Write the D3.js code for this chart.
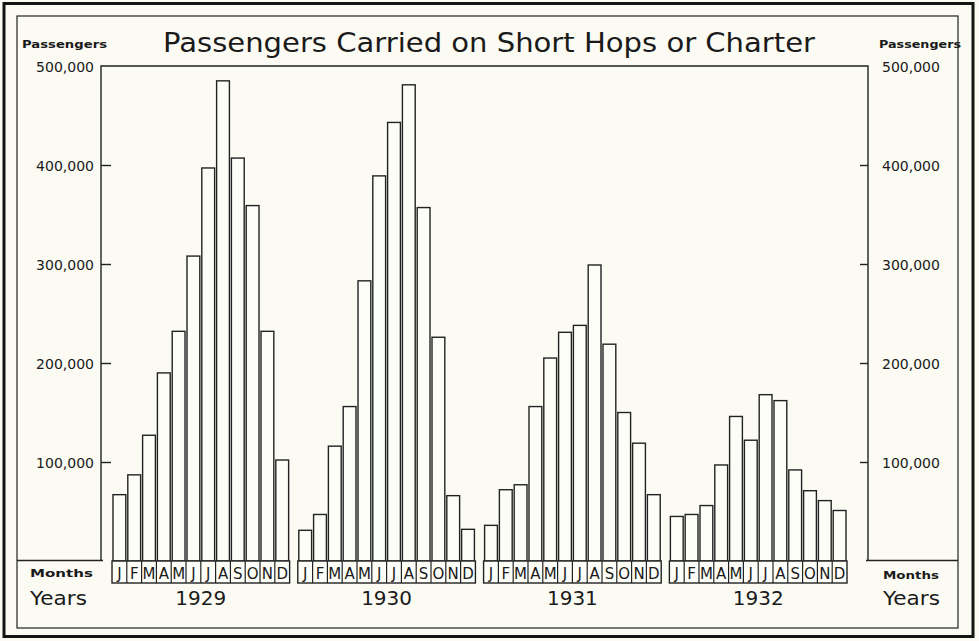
<!DOCTYPE html>
<html>
<head>
<meta charset="utf-8">
<script src="https://cdn.jsdelivr.net/npm/d3@7/dist/d3.min.js"></script>
<style>
  html, body { margin: 0; padding: 0; background: #fbfaf3; }
  svg { display: block; }
</style>
</head>
<body>
<svg id="chart" width="979" height="641"></svg>
<script>
// ---- DATA ----
const years = ["1929", "1930", "1931", "1932"];
const months = ["J", "F", "M", "A", "M", "J", "J", "A", "S", "O", "N", "D"];
const values1929 = [67000, 87000, 127000, 190000, 232000, 308000, 397000, 485000, 407000, 359000, 232000, 102000];
const values1930 = [31000, 47000, 116000, 156000, 283000, 389000, 443000, 481000, 357000, 226000, 66000, 32000];
const values1931 = [36000, 72000, 77000, 156000, 205000, 231000, 238000, 299000, 219000, 150000, 119000, 67000];
const values1932 = [45000, 47000, 56000, 97000, 146000, 122000, 168000, 162000, 92000, 71000, 61000, 51000];
const yTicks = [100000, 200000, 300000, 400000, 500000];
const titleText = "Passengers Carried on Short Hops or Charter";

const seriesByYear = { "1929": values1929, "1930": values1930, "1931": values1931, "1932": values1932 };

// ---- LAYOUT ----
const W = 979, H = 641;
const ink = "#222";
const plotLeft = 101, plotRight = 868, plotTop = 66, plotBottom = 561;
const boxH = 22;

const svg = d3.select("#chart");

svg.append("rect").attr("x", 0).attr("y", 0).attr("width", W).attr("height", H).attr("fill", "#fbfaf3");

// outer thick frame and inner thin frame
svg.append("rect").attr("x", 4).attr("y", 3.5).attr("width", 969).attr("height", 633)
  .attr("fill", "none").attr("stroke", "#141414").attr("stroke-width", 3);
svg.append("rect").attr("x", 17).attr("y", 16).attr("width", 941).attr("height", 612)
  .attr("fill", "none").attr("stroke", ink).attr("stroke-width", 1.2);

// scales
const y = d3.scaleLinear().domain([0, 500000]).range([plotBottom, plotTop]);
const xYear = d3.scaleBand().domain(years).range([112, 847]).paddingInner(0.044);
const xMonth = d3.scaleBand().domain(d3.range(12)).range([0, xYear.bandwidth()]).paddingInner(0);

// plot frame (left axis, top, right axis)
svg.append("path")
  .attr("d", `M${plotLeft},${plotBottom}V${plotTop}H${plotRight}V${plotBottom}`)
  .attr("fill", "none").attr("stroke", ink).attr("stroke-width", 1.4);

svg.append("line").attr("x1", 17).attr("x2", plotLeft + 2).attr("y1", plotBottom - 0.5).attr("y2", plotBottom - 0.5)
  .attr("stroke", ink).attr("stroke-width", 1.4);
svg.append("line").attr("x1", plotRight - 2).attr("x2", 958).attr("y1", plotBottom - 0.5).attr("y2", plotBottom - 0.5)
  .attr("stroke", ink).attr("stroke-width", 1.4);

// axes
const fmt = d3.format(",");
const leftAxis = d3.axisLeft(y).tickValues(yTicks).tickSize(-10).tickFormat(fmt).tickPadding(7);
const rightAxis = d3.axisRight(y).tickValues(yTicks).tickSize(-8).tickFormat(fmt).tickPadding(14);

const gl = svg.append("g").attr("transform", `translate(${plotLeft},0)`).call(leftAxis);
const gr = svg.append("g").attr("transform", `translate(${plotRight},0)`).call(rightAxis);
[gl, gr].forEach(g => {
  g.select(".domain").remove();
  g.selectAll(".tick line").attr("stroke", ink).attr("stroke-width", 1.4);
  g.selectAll(".tick text")
    .attr("fill", "#1a1a1a")
    .style("font-family", "'DejaVu Sans', sans-serif")
    .style("font-size", "14px")
    .attr("dy", "0.4em");
});
gl.selectAll(".tick").filter(d => d === 500000).select("line").remove();
gr.selectAll(".tick").filter(d => d === 500000).select("line").remove();
gr.selectAll(".tick text").attr("x", 14);

// bars
const groups = svg.append("g").selectAll("g.year")
  .data(years).join("g")
  .attr("class", "year")
  .attr("transform", d => `translate(${xYear(d)},0)`);

groups.selectAll("rect.bar")
  .data(yr => seriesByYear[yr].map((v, i) => ({ v, i })))
  .join("rect")
  .attr("class", "bar")
  .attr("x", d => xMonth(d.i) + 1)
  .attr("width", xMonth.bandwidth() - 2)
  .attr("y", d => y(d.v))
  .attr("height", d => plotBottom - y(d.v))
  .attr("fill", "#fdfdf8")
  .attr("stroke", ink)
  .attr("stroke-width", 1.4);

// month boxes
groups.append("rect")
  .attr("x", 0).attr("y", plotBottom).attr("width", xYear.bandwidth()).attr("height", boxH)
  .attr("fill", "#fdfdf8").attr("stroke", ink).attr("stroke-width", 1.4);
groups.selectAll("line.div")
  .data(d3.range(1, 12)).join("line")
  .attr("class", "div")
  .attr("x1", i => xMonth(i)).attr("x2", i => xMonth(i))
  .attr("y1", plotBottom).attr("y2", plotBottom + boxH)
  .attr("stroke", ink).attr("stroke-width", 1.2);
groups.selectAll("text.m")
  .data(months.map((m, i) => ({ m, i }))).join("text")
  .attr("class", "m")
  .attr("x", d => xMonth(d.i) + xMonth.bandwidth() / 2)
  .attr("y", plotBottom + 17.5)
  .attr("text-anchor", "middle")
  .attr("fill", "#1a1a1a")
  .style("font-family", "'DejaVu Sans', sans-serif")
  .style("font-size", "15px")
  .text(d => d.m);

// year labels
groups.append("text")
  .attr("x", xYear.bandwidth() / 2)
  .attr("y", 605)
  .attr("text-anchor", "middle")
  .attr("fill", "#1a1a1a")
  .style("font-family", "'DejaVu Sans', sans-serif")
  .style("font-size", "20px")
  .text(d => d);

// title
svg.append("text")
  .attr("x", 489).attr("y", 52)
  .attr("text-anchor", "middle")
  .attr("textLength", 652).attr("lengthAdjust", "spacingAndGlyphs")
  .attr("fill", "#1a1a1a")
  .style("font-family", "'DejaVu Sans', sans-serif")
  .style("font-size", "27px")
  .text(titleText);

// side labels
function sideLabel(x, yy, txt, size, weight, len) {
  svg.append("text").attr("x", x).attr("y", yy)
    .attr("textLength", len).attr("lengthAdjust", "spacingAndGlyphs")
    .attr("fill", "#1a1a1a")
    .style("font-family", "'DejaVu Sans', sans-serif")
    .style("font-size", size + "px")
    .style("font-weight", weight)
    .text(txt);
}
sideLabel(22, 48, "Passengers", 11, "bold", 85);
sideLabel(879, 48, "Passengers", 11, "bold", 82);
sideLabel(30, 577, "Months", 11, "bold", 63);
sideLabel(883, 579, "Months", 11, "bold", 56);
sideLabel(30, 605, "Years", 19, "normal", 57);
sideLabel(883, 605, "Years", 19, "normal", 57);
</script>
</body>
</html>
